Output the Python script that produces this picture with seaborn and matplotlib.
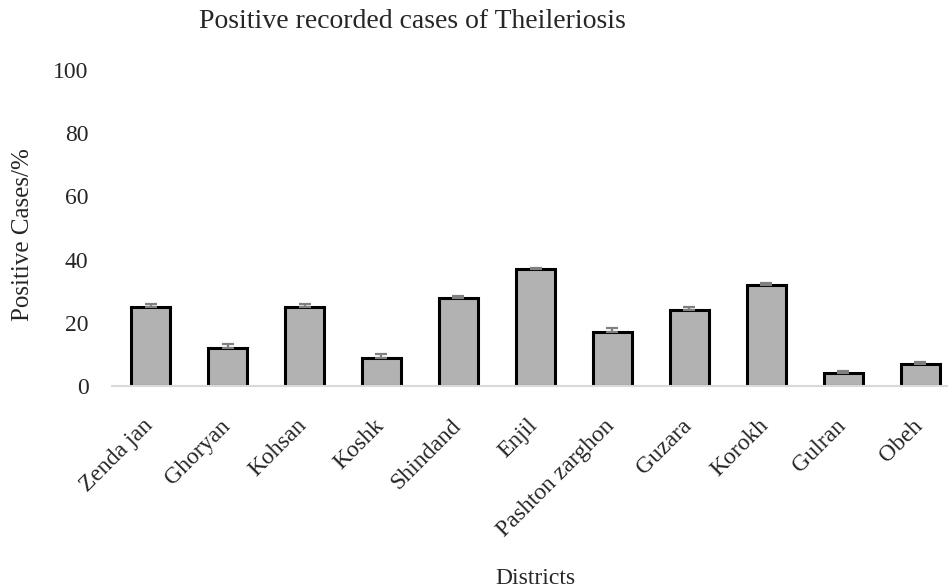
# Theileriosis positive cases by district
import matplotlib
matplotlib.use('Agg')
import matplotlib.pyplot as plt
import matplotlib.transforms as mtransforms
import pandas as pd
import seaborn as sns

# data
districts = ['Zenda jan', 'Ghoryan', 'Kohsan', 'Koshk', 'Shindand', 'Enjil',
             'Pashton zarghon', 'Guzara', 'Korokh', 'Gulran', 'Obeh']
positive = [25, 12, 25, 9, 28, 37, 17, 24, 32, 4, 7]
error_up = [1.1, 1.3, 1.0, 1.0, 0.6, 0.3, 1.3, 1.0, 0.5, 0.6, 0.6]
y_ticks = [0, 20, 40, 60, 80, 100]

df = pd.DataFrame({'district': districts, 'positive': positive, 'err': error_up})

sns.set_style('white')
plt.rcParams['font.family'] = ['Liberation Serif', 'DejaVu Serif']

fig = plt.figure(figsize=(9.48, 5.87), dpi=100)
ax = fig.add_axes([112 / 948, 1 - 386 / 587, 847 / 948, 316 / 587])

sns.barplot(x='district', y='positive', data=df, color='#b2b2b2', saturation=1,
            edgecolor='black', linewidth=2.2, width=0.51, errorbar=None, ax=ax)

# plus-only error bars, as Excel draws them
ax.errorbar(x=range(len(df)), y=df['positive'], yerr=[[0] * len(df), df['err']],
            fmt='none', ecolor='#808080', elinewidth=1.6, capsize=4.5, capthick=1.6,
            zorder=3)

ax.set_ylim(0, 100)
ax.set_xlim(-0.5, len(df) - 0.5)
ax.set_yticks(y_ticks)
ax.tick_params(axis='y', length=0, pad=17, labelsize=17)
ax.tick_params(axis='x', length=0, pad=21, labelsize=17)
shift = mtransforms.ScaledTranslation(-6 / 72, 0, fig.dpi_scale_trans)
for lab in ax.get_xticklabels():
    lab.set_rotation(45)
    lab.set_ha('right')
    lab.set_rotation_mode('anchor')
    lab.set_transform(lab.get_transform() + shift)

for side in ['left', 'right', 'top']:
    ax.spines[side].set_visible(False)
ax.spines['bottom'].set_color('#d9d9d9')
ax.spines['bottom'].set_linewidth(1.5)

ax.set_xlabel('')
ax.set_ylabel('')
fig.text(535 / 948, 1 - 578 / 587, 'Districts', ha='center', va='center', fontsize=17)
fig.text(23 / 948, 1 - 235 / 587, 'Positive Cases/%', ha='center', va='center',
         rotation=90, fontsize=18)
fig.text(412 / 948, 1 - 22 / 587, 'Positive recorded cases of Theileriosis',
         ha='center', va='center', fontsize=20)

fig.savefig('out.png', dpi=100)
